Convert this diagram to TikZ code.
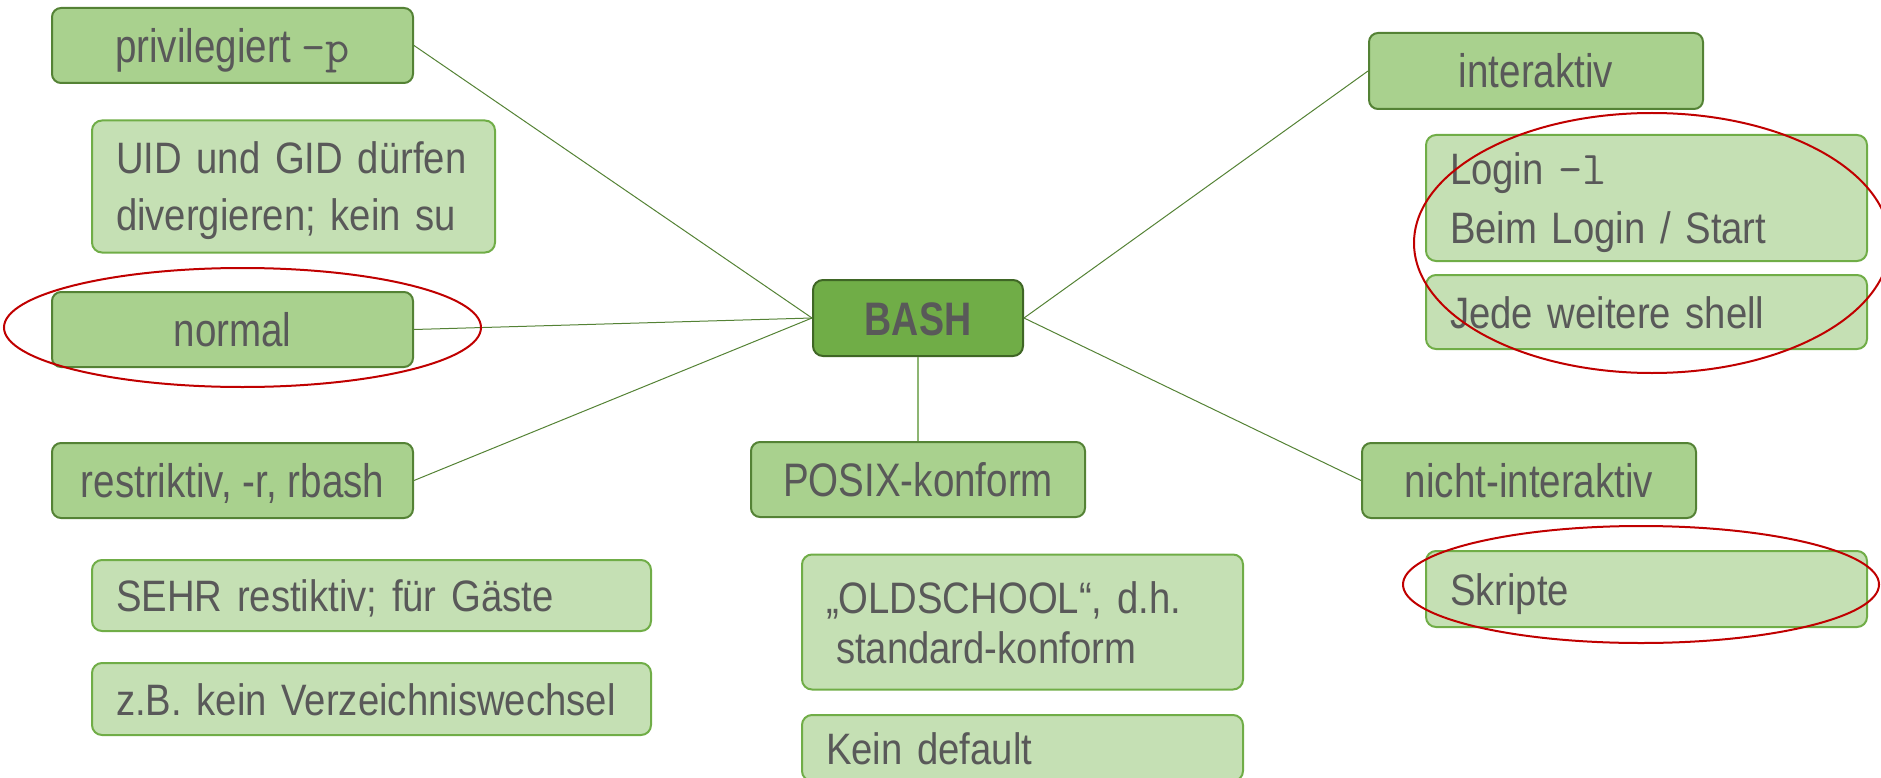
\documentclass[tikz,border=0pt]{standalone}
\usepackage{fontspec}
\setmainfont{Liberation Sans}
\newfontfamily\onef{Liberation Sans}[FakeStretch=0.82]
\newfontfamily\twof{Liberation Sans}[FakeStretch=0.87]
\newfontfamily\bashf{Liberation Sans}[FakeStretch=0.80]
\newfontfamily\monof{Latin Modern Mono}
\definecolor{txtgray}{HTML}{595959}
\definecolor{onefill}{HTML}{A9D18E}
\definecolor{oneline}{HTML}{548235}
\definecolor{twofill}{HTML}{C5E0B4}
\definecolor{twoline}{HTML}{70AD47}
\definecolor{rootfill}{HTML}{70AD47}
\definecolor{rootline}{HTML}{3F6625}
\definecolor{ringred}{HTML}{C00000}
\definecolor{vline}{HTML}{8DB573}
\tikzset{
  boxbase/.style={line width=2pt, text=txtgray, inner ysep=0pt},
  lvone/.style={boxbase, draw=oneline, fill=onefill, rounded corners=9pt,
    inner xsep=0pt, minimum width=361pt, minimum height=75pt,
    text height=34pt, text depth=0pt, font=\fontsize{47}{57}\onef},
  lvtwo/.style={boxbase, draw=twoline, fill=twofill, rounded corners=10pt,
    inner xsep=24pt, align=left, text height=32pt, text depth=0pt,
    font=\fontsize{44}{57}\twof},
  rootbox/.style={boxbase, draw=rootline, fill=rootfill, rounded corners=10pt,
    inner xsep=0pt, minimum width=210pt, minimum height=76pt,
    text height=34pt, text depth=0pt, font=\fontsize{47}{57}\bashf\bfseries},
  conn/.style={draw=oneline, line width=1pt},
  stemline/.style={draw=vline, line width=1.6pt},
  ring/.style={draw=ringred, line width=2pt}
}
\begin{document}
\begin{tikzpicture}[x=1pt,y=-1pt]
\useasboundingbox (0,0) rectangle (1881,778);

% root
\node[rootbox] (bash) at (918,318) {BASH};

% left branches
\node[lvone] (priv) at (232.5,45.5) {privilegiert {\monof –p}};
\node[lvtwo, minimum width=403pt, minimum height=132pt, text width=355pt,
      text depth=57pt] (uid) at (293.5,186.5)
      {\mbox{UID und GID dürfen}\\\mbox{divergieren; kein su}};
\node[lvone] (norm) at (232.5,329.5) {normal};
\node[lvone] (restr) at (232.5,480.5) {restriktiv, -r, rbash};
\node[lvtwo, minimum width=559pt, minimum height=71pt, text width=511pt]
      (sehr) at (371.5,595.5) {\mbox{SEHR restiktiv; für Gäste}};
\node[lvtwo, minimum width=559pt, minimum height=72pt, text width=511pt]
      (zb) at (371.5,699) {\mbox{z.B. kein Verzeichniswechsel}};

% bottom branch
\node[lvone, minimum width=334pt] (posix) at (918,479.5) {POSIX-konform};
\node[lvtwo, minimum width=441pt, minimum height=135pt, text width=393pt,
      text depth=50pt, font=\fontsize{44}{50}\twof]
      (old) at (1022.5,622)
      {\mbox{„OLDSCHOOL“, d.h.}\\\mbox{\hspace*{10pt}standard-konform}};
\node[lvtwo, minimum width=441pt, minimum height=66pt, text width=393pt]
      (kein) at (1022.5,748) {\mbox{Kein default}};

% right branches
\node[lvone, minimum width=334pt, minimum height=76pt] (inter) at (1536,71) {interaktiv};
\node[lvtwo, minimum width=441pt, minimum height=126pt, text width=393pt,
      text depth=59pt, font=\fontsize{44}{59}\twof]
      (login) at (1646.5,198)
      {\mbox{Login {\fontsize{47}{59}\monof –l}}\\\mbox{Beim Login / Start}};
\node[lvtwo, minimum width=441pt, minimum height=74pt, text width=393pt]
      (jede) at (1646.5,312) {\mbox{Jede weitere shell}};
\node[lvone, minimum width=334pt] (nicht) at (1529,480.5) {nicht-interaktiv};
\node[lvtwo, minimum width=441pt, minimum height=76pt, text width=393pt]
      (skript) at (1646.5,589) {\mbox{Skripte}};

% connectors
\draw[conn] (bash.west) -- (priv.east);
\draw[conn] (bash.west) -- (norm.east);
\draw[conn] (bash.west) -- (restr.east);
\draw[conn] (bash.east) -- (inter.west);
\draw[conn] (bash.east) -- (nicht.west);
\draw[stemline] (bash.south) -- (posix.north);

% red highlight rings
\draw[ring] (242.5,327.5) ellipse [x radius=238.5pt, y radius=59.5pt];
\draw[ring] (1652,243) ellipse [x radius=238pt, y radius=130pt];
\draw[ring] (1641,584.5) ellipse [x radius=238pt, y radius=58.5pt];
\end{tikzpicture}
\end{document}
